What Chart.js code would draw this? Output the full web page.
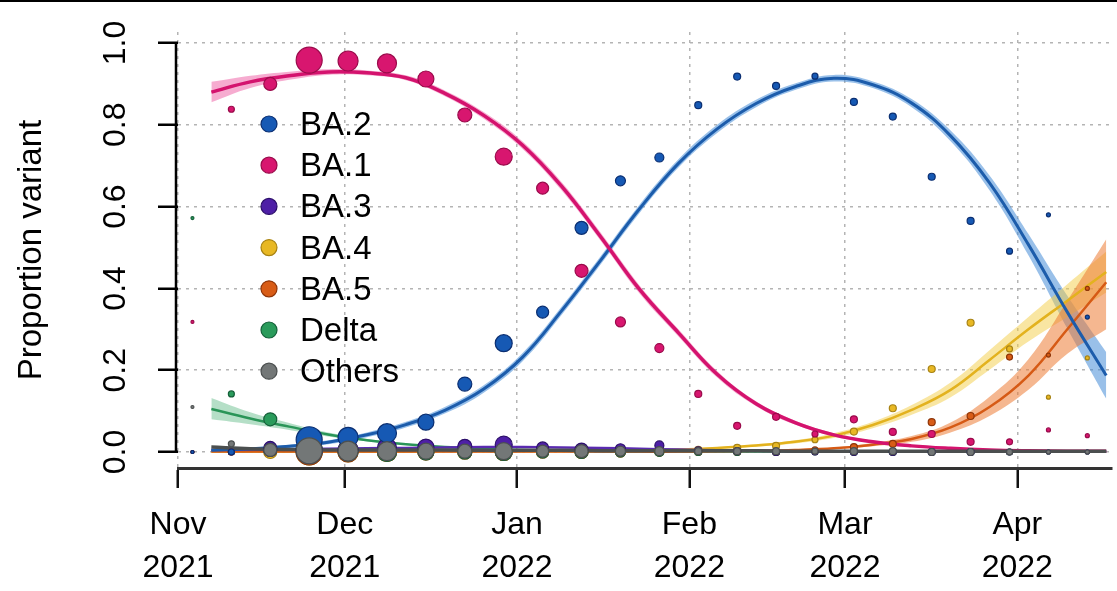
<!DOCTYPE html>
<html>
<head>
<meta charset="utf-8">
<script src="https://cdn.jsdelivr.net/npm/chart.js"></script>
<style>
  html, body { margin: 0; padding: 0; background: #fff; }
  canvas { display: block; }
</style>
</head>
<body>
<canvas id="variantChart" width="1117" height="591"></canvas>
<script>
// Axis values: days counted from 1 Nov 2021
const monthTickDays = [0, 30, 61, 92, 120, 151];
const monthLabels = [['Nov', '2021'], ['Dec', '2021'], ['Jan', '2022'], ['Feb', '2022'], ['Mar', '2022'], ['Apr', '2022']];
const yTicks = [0, 0.2, 0.4, 0.6, 0.8, 1.0];
const variantNames = ['BA.2', 'BA.1', 'BA.3', 'BA.4', 'BA.5', 'Delta', 'Others'];

// Weekly observed proportions
const weekDays = [2.6, 9.6, 16.6, 23.6, 30.6, 37.6, 44.6, 51.6, 58.6, 65.6, 72.6, 79.6,
  86.6, 93.6, 100.6, 107.6, 114.6, 121.6, 128.6, 135.6, 142.6, 149.6, 156.6, 163.6];
const weeklySamples = [9, 36, 169, 676, 400, 361, 256, 196, 289, 144, 169, 100,
  81, 49, 49, 49, 36, 49, 49, 49, 49, 36, 16, 16];
const ba2Obs = [0, 0, 0.005, 0.03, 0.036, 0.046, 0.073, 0.166, 0.266, 0.342, 0.548, 0.663,
  0.72, 0.848, 0.918, 0.895, 0.919, 0.856, 0.82, 0.673, 0.565, 0.491, 0.58, 0.33];
const ba1Obs = [0.318, 0.838, 0.9, 0.958, 0.956, 0.95, 0.912, 0.824, 0.722, 0.645, 0.443, 0.318,
  0.254, 0.142, 0.064, 0.086, 0.044, 0.08, 0.049, 0.044, 0.025, 0.025, 0.054, 0.04];
const ba3Obs = [0, 0, 0.01, 0.004, 0.005, 0.01, 0.012, 0.014, 0.018, 0.01, 0.006, 0.008,
  0.016, 0.004, 0.002, 0, 0, 0, 0, 0, 0, 0, 0, 0];
const ba4Obs = [0, 0, 0, 0, 0, 0, 0, 0, 0, 0, 0, 0,
  0.002, 0.005, 0.01, 0.015, 0.03, 0.05, 0.107, 0.203, 0.316, 0.252, 0.134, 0.23];
const ba5Obs = [0, 0, 0.005, 0, 0, 0, 0, 0, 0, 0, 0, 0,
  0, 0, 0, 0, 0.005, 0.012, 0.02, 0.073, 0.088, 0.232, 0.237, 0.4];
const deltaObs = [0.572, 0.142, 0.08, 0.005, 0.003, 0, 0, 0, 0, 0, 0, 0,
  0, 0, 0, 0, 0, 0, 0, 0, 0, 0, 0, 0];
const othersObs = [0.11, 0.02, 0.005, 0.003, 0.002, 0.002, 0.002, 0.002, 0.002, 0.002, 0.002, 0.002,
  0.002, 0.002, 0.002, 0.002, 0.002, 0.002, 0.002, 0, 0, 0, 0, 0];

// Fitted curves with confidence bands
const fitDays = [6, 13, 20, 27, 34, 41, 48, 55, 62, 69, 76, 83, 90, 97, 104, 111, 118, 125, 132, 139, 146, 153, 160, 167];
const ba2Fit = [0.004, 0.008, 0.014, 0.024, 0.042, 0.067, 0.102, 0.154, 0.232, 0.345, 0.468, 0.594,
  0.705, 0.79, 0.852, 0.893, 0.914, 0.898, 0.853, 0.773, 0.658, 0.507, 0.342, 0.187];
const ba2Lo = [0.002, 0.005, 0.010, 0.019, 0.036, 0.060, 0.094, 0.145, 0.222, 0.335, 0.458, 0.584,
  0.695, 0.78, 0.843, 0.885, 0.906, 0.890, 0.843, 0.760, 0.640, 0.481, 0.302, 0.130];
const ba2Hi = [0.006, 0.011, 0.018, 0.029, 0.048, 0.074, 0.110, 0.163, 0.242, 0.355, 0.478, 0.604,
  0.715, 0.80, 0.861, 0.901, 0.922, 0.906, 0.863, 0.786, 0.676, 0.533, 0.382, 0.244];
const ba1Fit = [0.88, 0.905, 0.92, 0.929, 0.927, 0.915, 0.877, 0.823, 0.75, 0.65, 0.527, 0.398,
  0.292, 0.19, 0.118, 0.072, 0.042, 0.025, 0.015, 0.009, 0.005, 0.003, 0.002, 0.002];
const ba1Lo = [0.855, 0.89, 0.91, 0.922, 0.921, 0.909, 0.870, 0.815, 0.741, 0.64, 0.517, 0.388,
  0.283, 0.182, 0.112, 0.067, 0.038, 0.022, 0.013, 0.007, 0.004, 0.002, 0.001, 0.001];
const ba1Hi = [0.905, 0.92, 0.93, 0.936, 0.933, 0.921, 0.884, 0.831, 0.759, 0.66, 0.537, 0.408,
  0.301, 0.198, 0.124, 0.077, 0.046, 0.028, 0.017, 0.011, 0.006, 0.004, 0.003, 0.003];
const ba3Fit = [0.005, 0.006, 0.007, 0.008, 0.009, 0.01, 0.011, 0.012, 0.012, 0.011, 0.01, 0.008,
  0.006, 0.004, 0.003, 0.002, 0.001, 0.001, 0.001, 0.001, 0.001, 0.001, 0.001, 0.001];
const ba4Fit = [0.001, 0.001, 0.001, 0.001, 0.001, 0.001, 0.002, 0.002, 0.002, 0.002, 0.003, 0.004,
  0.006, 0.01, 0.016, 0.025, 0.04, 0.066, 0.103, 0.152, 0.225, 0.30, 0.37, 0.44];
const ba4Lo = [0, 0, 0, 0, 0, 0, 0.001, 0.001, 0.001, 0.001, 0.002, 0.003,
  0.004, 0.008, 0.013, 0.021, 0.034, 0.058, 0.091, 0.134, 0.201, 0.27, 0.33, 0.39];
const ba4Hi = [0.002, 0.002, 0.002, 0.002, 0.002, 0.002, 0.003, 0.003, 0.003, 0.003, 0.004, 0.005,
  0.008, 0.012, 0.019, 0.029, 0.046, 0.074, 0.115, 0.17, 0.249, 0.33, 0.41, 0.49];
const ba5Fit = [0.001, 0.001, 0.001, 0.001, 0.001, 0.001, 0.001, 0.001, 0.001, 0.001, 0.001, 0.001,
  0.001, 0.002, 0.003, 0.005, 0.009, 0.018, 0.032, 0.06, 0.11, 0.187, 0.30, 0.415];
const ba5Lo = [0, 0, 0, 0, 0, 0, 0, 0, 0, 0, 0, 0,
  0, 0.001, 0.002, 0.003, 0.007, 0.014, 0.025, 0.048, 0.088, 0.152, 0.24, 0.30];
const ba5Hi = [0.002, 0.002, 0.002, 0.002, 0.002, 0.002, 0.002, 0.002, 0.002, 0.002, 0.002, 0.002,
  0.002, 0.003, 0.004, 0.007, 0.011, 0.022, 0.039, 0.072, 0.135, 0.227, 0.37, 0.52];
const deltaFit = [0.105, 0.082, 0.062, 0.043, 0.029, 0.019, 0.012, 0.008, 0.005, 0.003, 0.002, 0.001,
  0.001, 0.001, 0.001, 0.001, 0.001, 0.001, 0.001, 0.001, 0.001, 0.001, 0.001, 0.001];
const deltaLo = [0.08, 0.068, 0.054, 0.038, 0.026, 0.017, 0.011, 0.007, 0.004, 0.002, 0.001, 0,
  0, 0, 0, 0, 0, 0, 0, 0, 0, 0, 0, 0];
const deltaHi = [0.132, 0.097, 0.071, 0.048, 0.032, 0.021, 0.014, 0.009, 0.006, 0.004, 0.003, 0.002,
  0.002, 0.002, 0.002, 0.002, 0.002, 0.002, 0.002, 0.002, 0.002, 0.002, 0.002, 0.002];
const othersFit = [0.012, 0.008, 0.006, 0.005, 0.005, 0.005, 0.005, 0.004, 0.004, 0.004, 0.003, 0.003,
  0.003, 0.003, 0.003, 0.002, 0.002, 0.002, 0.002, 0.002, 0.002, 0.002, 0.002, 0.002];

// Colours
const fontFamily = "'Liberation Sans', Arial, Helvetica, sans-serif";
const variantColors = {
  'BA.2': { point: '#1659b4', edge: '#0b2f72', line: '#1c5cab', band: 'rgba(70,140,215,0.55)' },
  'BA.1': { point: '#d8166f', edge: '#9a0b4b', line: '#d4136e', band: 'rgba(236,70,150,0.45)' },
  'BA.3': { point: '#4e1fa6', edge: '#2c0f6a', line: '#5a2bb0', band: null },
  'BA.4': { point: '#e8b824', edge: '#a88314', line: '#e3b21e', band: 'rgba(244,206,70,0.5)' },
  'BA.5': { point: '#d85c16', edge: '#8f3508', line: '#d65a15', band: 'rgba(236,124,52,0.55)' },
  'Delta': { point: '#2a9b5b', edge: '#16603a', line: '#2a9558', band: 'rgba(70,175,115,0.4)' },
  'Others': { point: '#737777', edge: '#4c5050', line: '#4b4f4f', band: null }
};
const curveTension = 0.4;

function toPoints(days, values) {
  return days.map((d, i) => ({ x: d, y: values[i] }));
}

function bandSets(lo, hi, color, order) {
  const common = {
    type: 'line', pointRadius: 0, borderWidth: 0, borderColor: 'rgba(0,0,0,0)',
    tension: curveTension, order: order
  };
  return [
    Object.assign({}, common, { data: toPoints(fitDays, lo), fill: false }),
    Object.assign({}, common, { data: toPoints(fitDays, hi), fill: '-1', backgroundColor: color })
  ];
}

function fitSet(values, color, width, order) {
  return {
    type: 'line', data: toPoints(fitDays, values), borderColor: color, borderWidth: width,
    pointRadius: 0, fill: false, tension: curveTension, order: order
  };
}

function obsSet(values, c, order) {
  return {
    type: 'line', showLine: false, data: toPoints(weekDays, values),
    pointRadius: weeklySamples.map(n => Math.sqrt(n) / 2),
    pointBackgroundColor: c.point, pointBorderColor: c.edge, pointBorderWidth: 1.2,
    order: order
  };
}

const c = variantColors;
const datasets = [].concat(
  bandSets(deltaLo, deltaHi, c['Delta'].band, 90),
  bandSets(ba1Lo, ba1Hi, c['BA.1'].band, 89),
  bandSets(ba2Lo, ba2Hi, c['BA.2'].band, 88),
  bandSets(ba4Lo, ba4Hi, c['BA.4'].band, 87),
  bandSets(ba5Lo, ba5Hi, c['BA.5'].band, 86),
  [
    fitSet(deltaFit, c['Delta'].line, 2.5, 60),
    fitSet(ba4Fit, c['BA.4'].line, 2.5, 59),
    fitSet(ba5Fit, c['BA.5'].line, 2.5, 58),
    fitSet(ba3Fit, c['BA.3'].line, 2.5, 57),
    fitSet(ba2Fit, c['BA.2'].line, 3, 56),
    fitSet(ba1Fit, c['BA.1'].line, 3.5, 55),
    fitSet(othersFit, c['Others'].line, 3.5, 54),
    obsSet(ba4Obs, c['BA.4'], 20),
    obsSet(ba5Obs, c['BA.5'], 19),
    obsSet(deltaObs, c['Delta'], 18),
    obsSet(ba3Obs, c['BA.3'], 17),
    obsSet(ba2Obs, c['BA.2'], 16),
    obsSet(ba1Obs, c['BA.1'], 15),
    obsSet(othersObs, c['Others'], 1)
  ]
);

// Rotated y labels, detached y axis line, in-plot legend, top frame line
const decorPlugin = {
  id: 'decor',
  afterDraw(chart) {
    const { ctx, chartArea, scales } = chart;
    const y = scales.y;
    ctx.save();
    ctx.fillStyle = '#000';
    ctx.fillRect(0, 0, chart.width, 2);

    ctx.strokeStyle = '#000';
    ctx.lineWidth = 2.5;
    ctx.beginPath();
    ctx.moveTo(chartArea.left - 2, y.getPixelForValue(0) + 1);
    ctx.lineTo(chartArea.left - 2, y.getPixelForValue(1) - 1);
    ctx.stroke();

    ctx.font = '32px ' + fontFamily;
    ctx.textAlign = 'center';
    ctx.textBaseline = 'middle';
    yTicks.forEach(v => {
      ctx.save();
      ctx.translate(116, y.getPixelForValue(v));
      ctx.rotate(-Math.PI / 2);
      ctx.fillText(v.toFixed(1), 0, 0);
      ctx.restore();
    });

    ctx.font = '33px ' + fontFamily;
    ctx.textAlign = 'left';
    variantNames.forEach((name, i) => {
      const rowY = 124 + i * 41.2;
      ctx.beginPath();
      ctx.arc(269, rowY, 8, 0, Math.PI * 2);
      ctx.fillStyle = c[name].point;
      ctx.fill();
      ctx.lineWidth = 1.2;
      ctx.strokeStyle = c[name].edge;
      ctx.stroke();
      ctx.fillStyle = '#000';
      ctx.fillText(name, 300, rowY + 2);
    });
    ctx.restore();
  }
};

new Chart(document.getElementById('variantChart'), {
  type: 'line',
  data: { datasets: datasets },
  options: {
    responsive: false,
    animation: false,
    events: [],
    layout: { padding: { top: 32, right: 0, bottom: 0, left: 0 } },
    plugins: {
      legend: { display: false },
      tooltip: { enabled: false }
    },
    scales: {
      x: {
        type: 'linear',
        min: 0,
        max: 168,
        afterBuildTicks: scale => { scale.ticks = monthTickDays.map(v => ({ value: v })); },
        afterFit: scale => { scale.height = 123; },
        grid: {
          color: '#b4b4b4',
          lineWidth: 1.5,
          tickLength: 20,
          tickColor: '#111',
          tickWidth: 2.5
        },
        border: { display: true, color: '#333', width: 3, dash: [3, 5] },
        ticks: {
          autoSkip: false,
          maxRotation: 0,
          padding: 16,
          color: '#000',
          font: { family: fontFamily, size: 32, lineHeight: 1.34 },
          callback: (value, index) => monthLabels[index]
        }
      },
      y: {
        type: 'linear',
        min: -0.0391,
        max: 1.0269,
        afterBuildTicks: scale => { scale.ticks = yTicks.map(v => ({ value: v })); },
        afterFit: scale => { scale.width = 178; },
        grid: {
          color: '#b4b4b4',
          lineWidth: 1.5,
          tickLength: 20,
          tickColor: '#000',
          tickWidth: 2.5
        },
        border: { display: false, dash: [3, 5] },
        ticks: { display: false },
        title: {
          display: true,
          text: 'Proportion variant',
          color: '#000',
          font: { family: fontFamily, size: 33 },
          padding: { top: 12, bottom: 0 }
        }
      }
    }
  },
  plugins: [decorPlugin]
});
</script>
</body>
</html>
